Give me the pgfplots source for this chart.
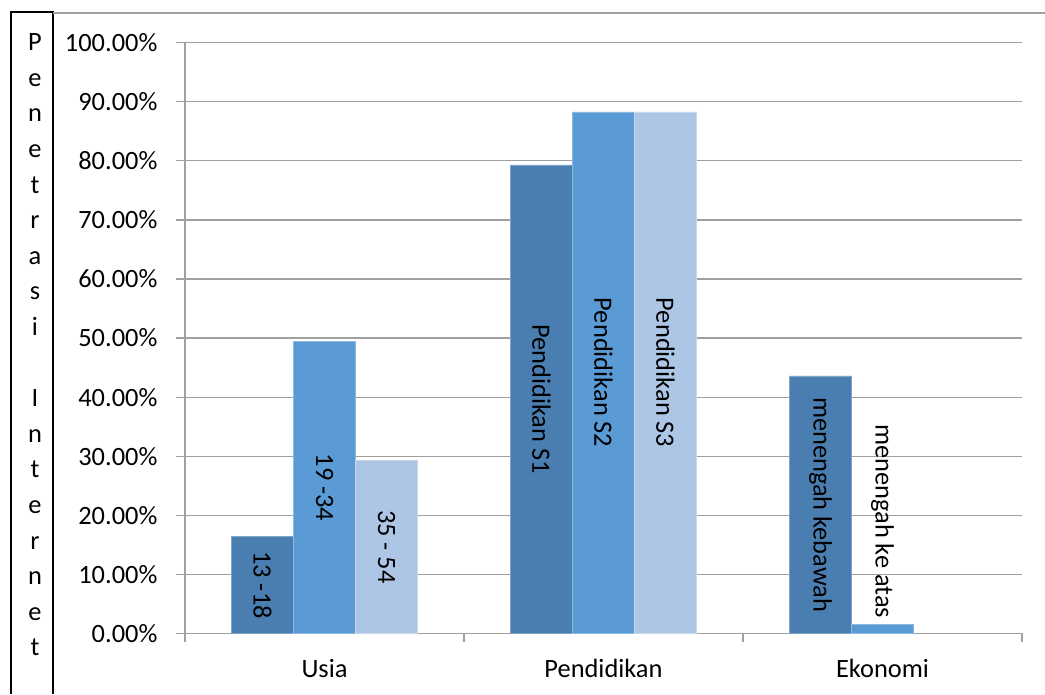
\documentclass[border=0pt]{standalone}
\usepackage{pgfplots}
\pgfplotsset{compat=1.18}
\usepackage{fontspec}
\setmainfont{Carlito}

\definecolor{barA}{RGB}{74,126,177}
\definecolor{barB}{RGB}{91,155,213}
\definecolor{barC}{RGB}{173,198,230}
\definecolor{gridgray}{RGB}{160,160,160}
\newcommand\fs{\fontsize{19.8}{23.8}\selectfont}

\begin{document}
\begin{tikzpicture}
\useasboundingbox (0,0) rectangle (783.75pt,520.5pt);

% frame on the left holding the vertical title
\begin{scope}[x=0.75pt,y=0.75pt]
  \draw[black, line width=1.5pt] (11,0) -- (11,682) -- (53,682) -- (53,0);
  \draw[gridgray, line width=0.8pt] (53,681) -- (1045,681);
  \foreach \c [count=\i from 0] in {P,e,n,e,t,r,a,s,i,{},I,n,t,e,r,n,e,t}
    \node[anchor=base, inner sep=0pt, font=\fs] at (35,643.3-35.6*\i) {\c};
\end{scope}

\begin{axis}[
  at={(138.75pt,45.4pt)}, anchor=south west,
  scale only axis, width=627.75pt, height=443.1pt,
  xmin=-0.5, xmax=2.5, ymin=0, ymax=100,
  ybar=0pt, bar width=0.2222,
  axis x line*=bottom, axis y line*=left,
  axis line style={-, draw=gridgray, line width=0.9pt},
  tick align=outside, major tick length=6.5pt,
  tick style={draw=gridgray, line width=0.9pt},
  ymajorgrids=true,
  grid style={draw=gridgray, line width=0.9pt},
  /pgf/number format/assume math mode=true,
  ytick={0,10,...,100},
  yticklabel={\pgfmathprintnumber[fixed,fixed zerofill,precision=2]{\tick}\%},
  yticklabel style={anchor=east, inner sep=0pt, xshift=-14pt, font=\fs},
  xtick={-0.5,0.5,1.5,2.5},
  xticklabel=\empty,
  extra x ticks={0,1,2},
  extra x tick labels={Usia,Pendidikan,Ekonomi},
  extra x tick style={major tick length=0pt, grid=none,
    xticklabel style={anchor=base, inner sep=0pt, yshift=-33pt, font=\fs}},
  clip=false,
]
% first bar of each group
\addplot[fill=barA, draw=barA!70!white, line width=0.4pt, bar shift=-0.2222]
  coordinates {(0,16.4) (1,79.3) (2,43.6)};
% second bar of each group
\addplot[fill=barB, draw=barB!70!white, line width=0.4pt, bar shift=0]
  coordinates {(0,49.4) (1,88.3) (2,1.5)};
% third bar (no third Ekonomi class)
\addplot[fill=barC, draw=barC!70!white, line width=0.4pt, bar shift=0.2222]
  coordinates {(0,29.3) (1,88.3)};

% category names written along the bars
\begin{scope}[every node/.style={rotate=-90, font=\fs, inner sep=0pt}]
  \node at (axis cs:-0.2222,8.2)  {13 -18};
  \node at (axis cs:0,24.7)       {19 -34};
  \node at (axis cs:0.2222,14.65) {35 - 54};
  \node at (axis cs:0.7778,39.65) {Pendidikan S1};
  \node at (axis cs:1,44.15)      {Pendidikan S2};
  \node at (axis cs:1.2222,44.15) {Pendidikan S3};
  \node at (axis cs:1.7778,21.8)  {menengah kebawah};
  \node at (axis cs:2,19)         {menengah ke atas};
\end{scope}
\end{axis}
\end{tikzpicture}
\end{document}
